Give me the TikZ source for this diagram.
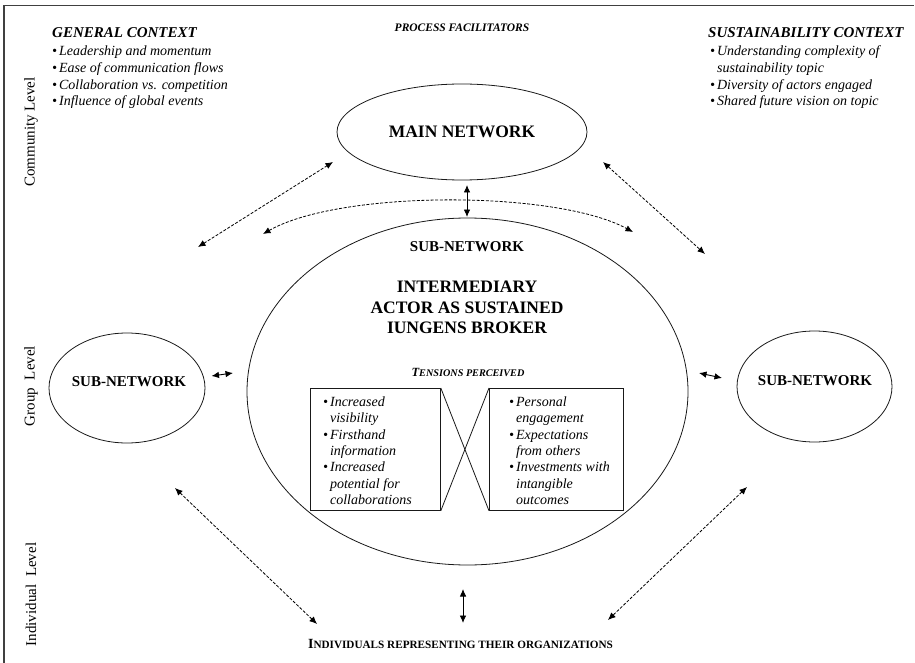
\documentclass[tikz,border=0pt]{standalone}
\usepackage{fontspec}
\setmainfont{Liberation Serif}
\usetikzlibrary{arrows.meta,shapes.geometric}
\newcommand{\fsz}[2]{\fontsize{#1}{#2}\selectfont}
\newcommand{\tenscap}[2]{{\fontsize{12.5}{13}\selectfont #1}{\fontsize{10.2}{13}\selectfont #2}}
\newcommand{\indcap}[2]{{\fontsize{14}{15}\selectfont #1}{\fontsize{11.2}{15}\selectfont #2}}
\begin{document}
\begin{tikzpicture}[x=1pt,y=-1pt,
  ell/.style={ellipse, draw=black!90, line width=0.8pt, inner sep=0pt},
  boxn/.style={draw=black!90, line width=0.8pt, inner sep=0pt, anchor=north west},
  dasharr/.style={line width=0.8pt, dash pattern=on 3pt off 1.6pt, {Latex[length=7.5pt,width=6.5pt]}-{Latex[length=7.5pt,width=6.5pt]}},
  solarr/.style={line width=0.9pt, {Latex[length=7.5pt,width=6.5pt]}-{Latex[length=7.5pt,width=6.5pt]}},
  lvl/.style={rotate=90, font=\fsz{15}{18}, inner sep=0pt},
  head/.style={anchor=base west, inner sep=0pt, font=\fsz{15}{18}\bfseries\itshape},
  items/.style={anchor=base west, inner sep=0pt, font=\fsz{14}{16.8}\itshape},
  bitems/.style={anchor=base west, inner sep=0pt, font=\fsz{14}{16.3}\itshape},
  netlbl/.style={inner sep=0pt, font=\fsz{15}{18}\bfseries},
  titl/.style={inner sep=0pt, align=center, font=\fsz{17.5}{20.5}\bfseries}
]
\useasboundingbox (0,0) rectangle (915,663);
% frame
\draw[line width=1.4pt, draw=black!75] (4,663) -- (4,5.5) -- (914,5.5);

% level labels
\node[lvl] (lcom) at (31,132) {Community Level};
\node[lvl] (lgrp) at (31,386) {Group\hspace{4pt} Level};
\node[lvl] (lind) at (31,594.5) {Individual\hspace{4pt} Level};

% top texts
\node[inner sep=0pt, font=\fsz{11.5}{13}\bfseries\itshape] (pf) at (462,28) {PROCESS FACILITATORS};
\node[head] (gc) at (52,38) {GENERAL CONTEXT};
\node[items] (gcl) at (52,55.5) {\begin{tabular}[t]{@{}l@{\hspace{2pt}}l@{}}
\textbullet & Leadership and momentum\\
\textbullet & Ease of communication flows\\
\textbullet & Collaboration vs. competition\\
\textbullet & Influence of global events
\end{tabular}};
\node[head] (sc) at (708,38) {SUSTAINABILITY CONTEXT};
\node[items] (scl) at (710,55.5) {\begin{tabular}[t]{@{}l@{\hspace{2pt}}l@{}}
\textbullet & Understanding complexity of\\
 & sustainability topic\\
\textbullet & Diversity of actors engaged\\
\textbullet & Shared future vision on topic
\end{tabular}};

% ellipses
\node[ell, minimum width=250pt, minimum height=96pt, font=\fsz{17.5}{20}\bfseries] (main) at (462,132) {MAIN NETWORK};
\node[ell, minimum width=441pt, minimum height=347pt] (big) at (467.5,391.5) {};
\node[ell, minimum width=156pt, minimum height=110pt] (lsub) at (127,388) {};
\node[ell, minimum width=155pt, minimum height=111pt] (rsub) at (814.5,386.5) {};
\node[netlbl] (lsubt) at (129,382) {SUB-NETWORK};
\node[netlbl] (rsubt) at (815,381) {SUB-NETWORK};
\node[netlbl] (bigt) at (467,247) {SUB-NETWORK};
\node[titl] (broker) at (467,307.5) {INTERMEDIARY\\ACTOR AS SUSTAINED\\IUNGENS BROKER};
\node[inner sep=0pt, font=\bfseries\itshape] (tens) at (468,372) {\tenscap{T}{ENSIONS PERCEIVED}};

% tension boxes
\node[boxn, minimum width=130pt, minimum height=122pt] (lb) at (310,388) {};
\node[boxn, minimum width=134pt, minimum height=122pt] (rb) at (489,388) {};
\draw[line width=0.8pt, draw=black!90] (lb.north east) -- (rb.south west);
\draw[line width=0.8pt, draw=black!90] (lb.south east) -- (rb.north west);
\node[bitems] (lbt) at (323,406.5) {\begin{tabular}[t]{@{}l@{\hspace{2pt}}l@{}}
\textbullet & Increased\\
 & visibility\\
\textbullet & Firsthand\\
 & information\\
\textbullet & Increased\\
 & potential for\\
 & collaborations
\end{tabular}};
\node[bitems] (rbt) at (509,406.5) {\begin{tabular}[t]{@{}l@{\hspace{2pt}}l@{}}
\textbullet & Personal\\
 & engagement\\
\textbullet & Expectations\\
 & from others\\
\textbullet & Investments with\\
 & intangible\\
 & outcomes
\end{tabular}};

% bottom text
\node[inner sep=0pt, font=\bfseries] (indiv) at (460.5,644) {\indcap{I}{NDIVIDUALS REPRESENTING THEIR ORGANIZATIONS}};

% arrow end points
\coordinate (a1s) at (198,247);  \coordinate (a1e) at (333,162);
\coordinate (a2s) at (603,162);  \coordinate (a2e) at (705,254);
\coordinate (a3s) at (263,234);  \coordinate (a3e) at (633,232);
\coordinate (a4s) at (175,488);  \coordinate (a4e) at (317,624);
\coordinate (a5s) at (747,487);  \coordinate (a5e) at (608,620);
\coordinate (b1s) at (467,185);  \coordinate (b1e) at (467,217);
\coordinate (b2s) at (211.5,376); \coordinate (b2e) at (233,373);
\coordinate (b3s) at (699,373);  \coordinate (b3e) at (722,378);
\coordinate (b4s) at (463,589);  \coordinate (b4e) at (463,623);

\draw[dasharr] (a1s) -- (a1e);
\draw[dasharr] (a2s) -- (a2e);
\draw[dasharr] (a3s) .. controls (340,190) and (556,190) .. (a3e);
\draw[dasharr] (a4s) -- (a4e);
\draw[dasharr] (a5s) -- (a5e);
\draw[solarr] (b1s) -- (b1e);
\draw[solarr] (b2s) -- (b2e);
\draw[solarr] (b3s) -- (b3e);
\draw[solarr] (b4s) -- (b4e);
\end{tikzpicture}
\end{document}
